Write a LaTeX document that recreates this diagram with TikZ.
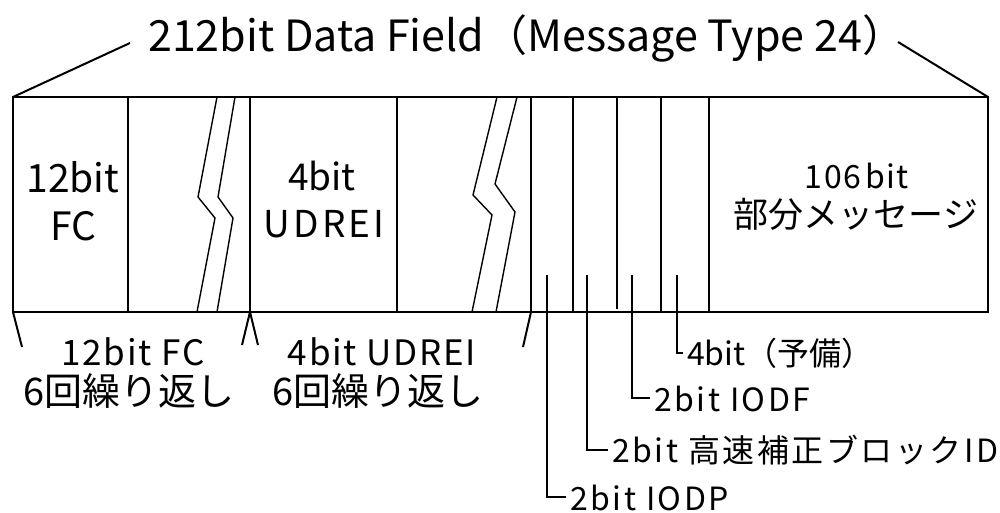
\documentclass[tikz,border=0pt]{standalone}
\usepackage{fontspec}
\setmainfont{Noto Sans CJK JP}
\begin{document}
\begin{tikzpicture}[x=1pt,y=-1pt,
  frame/.style={line width=2pt},
  zig/.style={line width=1.4pt, line join=miter},
  txt/.style={inner sep=0pt, anchor=base},
  lead/.style={inner xsep=4pt, inner ysep=0pt, anchor=base west},
  ttl/.style={font=\fontsize{43}{43}\selectfont},
  big/.style={font=\fontsize{38}{38}\selectfont},
  mid/.style={font=\fontsize{35}{35}\selectfont\addfontfeature{LetterSpace=5}},
  sml/.style={font=\fontsize{32}{32}\selectfont\addfontfeature{LetterSpace=8}}]
\useasboundingbox (0,0) rectangle (1000,513);

% title and its slanted lines
\node[txt, ttl, anchor=base west] (title) at (148,52) {212bit Data Field（Message Type 24）};
\coordinate (tl) at (13,97);
\coordinate (tr) at (988,97);
\coordinate (bl) at (13,312);
\coordinate (br) at (988,312);
\draw[frame] (tl) -- (130,43);
\draw[frame] (tr) -- (898,42);

% frame and dividers
\draw[frame] (tl) rectangle (br);
\foreach \x in {128,250,397,531,573,661,709}
  \draw[frame] (\x,97) -- (\x,312);
\draw[frame] (617,97) -- (617,309);

% break marks
\draw[zig] (217,97) -- (198,197) -- (215,218) -- (197,312);
\draw[zig] (235,97) -- (218,197) -- (233,218) -- (217,312);
\draw[zig] (497,97) -- (473,195) -- (492,215) -- (472,312);
\draw[zig] (517,97) -- (495,184) -- (515,212) -- (496,312);

% box labels
\node[txt, font=\fontsize{39}{39}\selectfont] (fc1) at (73,192) {12bit};
\node[txt, font=\fontsize{39}{39}\selectfont] (fc2) at (73,240) {FC};
\node[txt, font=\fontsize{37}{37}\selectfont] (ud1) at (322,190) {4bit};
\node[txt, font=\fontsize{37}{37}\selectfont\addfontfeature{LetterSpace=8}] (ud2) at (324,237) {UDREI};
\node[txt, font=\fontsize{32}{32}\selectfont\addfontfeature{LetterSpace=4}] (pm1) at (857,188) {106\kern5pt bit};
\node[txt, font=\fontsize{35}{35}\selectfont] (pm2) at (856,227) {部分メッセージ};

% repetition brackets
\draw[frame] (bl) -- (22,347);
\coordinate (m) at (250,312);
\draw[frame] (m) -- (242,345);
\draw[frame] (m) -- (258,345);
\coordinate (e) at (531,312);
\draw[frame] (e) -- (523,347);

\node[txt, mid] (b1) at (133,365) {12bit FC};
\node[txt, big] (b2) at (129,405) {6回繰り返し};
\node[txt, mid] (b3) at (382,365) {4bit UDREI};
\node[txt, big] (b4) at (378,405) {6回繰り返し};

% leader lines
\coordinate (k1) at (547,275);
\coordinate (k2) at (587,275);
\coordinate (k3) at (632,275);
\coordinate (k4) at (677,275);
\node[lead, font=\fontsize{32}{32}\selectfont] (r4) at (683,365) {4bit（予備）};
\node[lead, sml] (r3) at (650,411) {2bit IODF};
\node[lead, sml] (r2) at (608,462) {2bit 高速補正ブロックID};
\node[lead, sml] (r1) at (566,510) {2bit IODP};
\draw[frame] (k4) |- (r4.west);
\draw[frame] (k3) |- (r3.west);
\draw[frame] (k2) |- (r2.west);
\draw[frame] (k1) |- (r1.west);
\end{tikzpicture}
\end{document}
